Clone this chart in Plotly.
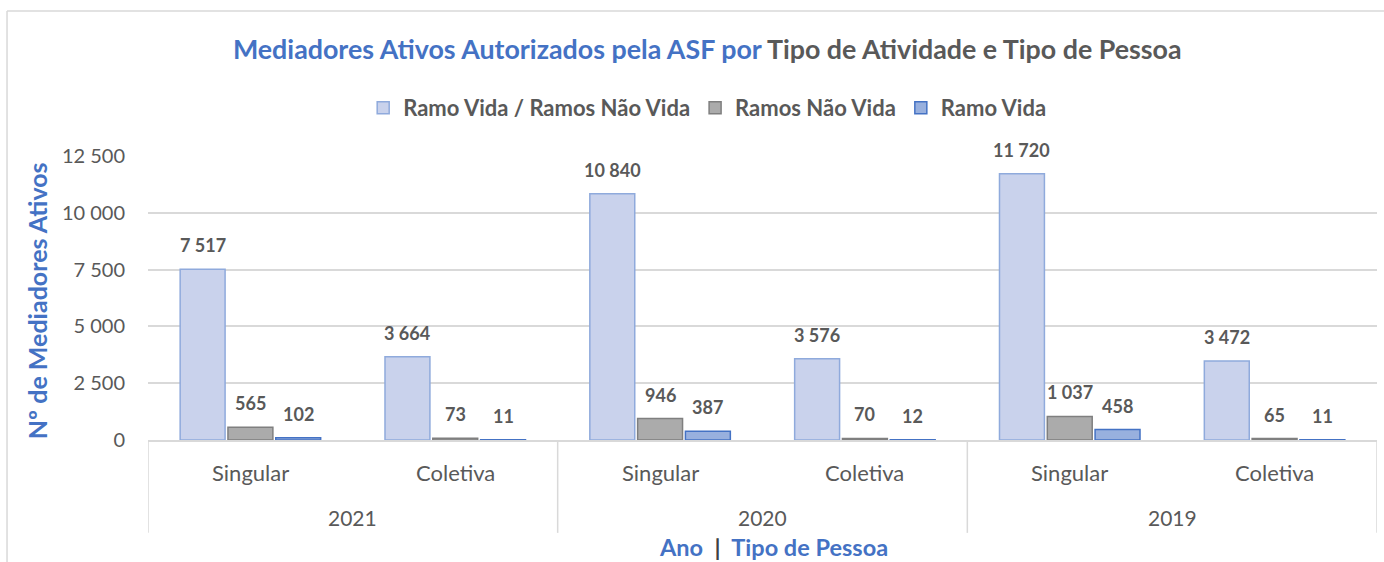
import plotly.graph_objects as go

years = ["2021", "2020", "2019"]
tipos = ["Singular", "Coletiva"]
categorias = ["Singular", "Coletiva", "Singular", "Coletiva", "Singular", "Coletiva"]
series_names = ["Ramo Vida / Ramos Não Vida", "Ramos Não Vida", "Ramo Vida"]
vida_nao_vida = [7517, 3664, 10840, 3576, 11720, 3472]
nao_vida = [565, 73, 946, 70, 1037, 65]
vida = [102, 11, 387, 12, 458, 11]
y_ticks = [0, 2500, 5000, 7500, 10000, 12500]

FONT = "Lato"
GREY_TXT = "#595959"
BLUE_TXT = "#4472C4"
LINE = "#D9D9D9"

fills = ["#C9D2EC", "#ABABAB", "#98B0DE"]
borders = ["#8FAADC", "#7F7F7F", "#4472C4"]
values = [vida_nao_vida, nao_vida, vida]

xs = list(range(len(categorias)))
bargap = 0.30
slot = (1 - bargap) / 3

fig = go.Figure()
for k, (name, vals) in enumerate(zip(series_names, values)):
    fig.add_trace(go.Bar(
        x=xs, y=vals, name=name,
        marker=dict(color=fills[k], line=dict(color=borders[k], width=1.5)),
        hoverinfo="y",
    ))

annotations = []
# data labels
for k, vals in enumerate(values):
    for i, v in enumerate(vals):
        annotations.append(dict(
            x=i + (k - 1) * slot, y=v, xref="x", yref="y",
            text=f"{v:,}".replace(",", " "), showarrow=False,
            yanchor="bottom", yshift=11,
            font=dict(family=FONT, size=18, color=GREY_TXT, weight="bold"),
        ))
# category labels
for i, c in enumerate(categorias):
    annotations.append(dict(
        x=i, y=-0.1127, xref="x", yref="paper", text=c, showarrow=False,
        yanchor="middle", font=dict(family=FONT, size=22, color=GREY_TXT),
    ))
# year labels
for j, yr in enumerate(years):
    annotations.append(dict(
        x=2 * j + 0.5, y=-0.2746, xref="x", yref="paper", text=yr, showarrow=False,
        yanchor="middle", font=dict(family=FONT, size=21, color=GREY_TXT),
    ))
# axis titles
annotations.append(dict(
    x=0.509, y=-0.376, xref="paper", yref="paper", showarrow=False, yanchor="middle",
    text=f"<span style='color:{BLUE_TXT}'>Ano</span>&nbsp; <span style='color:#404040'>|</span>&nbsp; <span style='color:{BLUE_TXT}'>Tipo de Pessoa</span>",
    font=dict(family=FONT, size=23.5, color=BLUE_TXT, weight="bold"),
))
annotations.append(dict(
    x=-0.0903, y=0.489, xref="paper", yref="paper", showarrow=False,
    xanchor="center", yanchor="middle", textangle=-90,
    text="Nº de Mediadores Ativos",
    font=dict(family=FONT, size=25, color=BLUE_TXT, weight="bold"),
))

shapes = []
for xv in [-0.5, 1.5, 3.5, 5.5]:
    shapes.append(dict(type="line", xref="x", yref="paper", x0=xv, x1=xv, y0=0, y1=-0.327,
                       line=dict(color=LINE, width=1.5)))
# chart border
shapes.append(dict(type="line", xref="paper", yref="paper", x0=-0.1147, x1=1.01, y0=1.5106, y1=1.5106,
                   line=dict(color=LINE, width=1.5)))
shapes.append(dict(type="line", xref="paper", yref="paper", x0=-0.1147, x1=-0.1147, y0=1.5106, y1=-0.45,
                   line=dict(color=LINE, width=1.5)))

fig.update_layout(
    width=1384, height=562,
    margin=dict(l=148, r=7, t=156, b=122),
    paper_bgcolor="white", plot_bgcolor="white",
    barmode="group", bargap=bargap, bargroupgap=0.06,
    separators=", ",
    showlegend=True,
    title=dict(
        text=f"<span style='color:{BLUE_TXT}'>Mediadores Ativos Autorizados pela ASF por</span> <span style='color:{GREY_TXT}'>Tipo de Atividade e Tipo de Pessoa</span>",
        x=0.511, xanchor="center", y=0.911, yanchor="middle",
        font=dict(family=FONT, size=26.8, weight="bold"),
    ),
    legend=dict(
        orientation="h", x=0.455, xanchor="center", y=1.169, yanchor="middle",
        font=dict(family=FONT, size=22, color=GREY_TXT, weight="bold"),
        itemwidth=30, traceorder="normal",
    ),
    xaxis=dict(range=[-0.5, 5.5], showticklabels=False, showgrid=False, zeroline=False,
               showline=True, linecolor=LINE, linewidth=1.5, fixedrange=True),
    yaxis=dict(range=[0, 12500], tickvals=y_ticks, tickformat=",d", showgrid=True,
               gridcolor=LINE, gridwidth=1.5, zeroline=False, showline=False,
               tickfont=dict(family=FONT, size=20, color=GREY_TXT), ticks="", ticklen=0,
               ticklabelstandoff=22),
    annotations=annotations,
    shapes=shapes,
)

fig.write_html("out.html", config={"displayModeBar": False},
               post_script="document.body.style.margin='0';")
